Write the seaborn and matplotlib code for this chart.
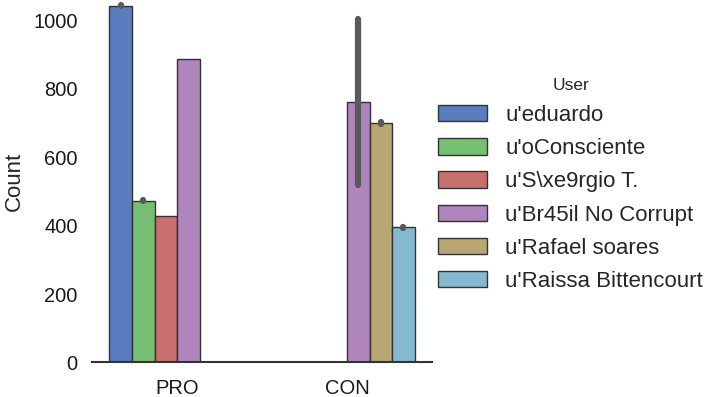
import numpy as np
import pandas as pd
import matplotlib
matplotlib.use("Agg")
import matplotlib.pyplot as plt
import seaborn as sns

# raw observations per (stance, user)
stances = ["PRO", "PRO", "PRO", "PRO", "PRO", "PRO",
           "CON", "CON", "CON", "CON", "CON", "CON"]
users = ["u'eduardo", "u'eduardo",
         "u'oConsciente", "u'oConsciente",
         "u'S\\xe9rgio T.",
         "u'Br45il No Corrupt",
         "u'Br45il No Corrupt", "u'Br45il No Corrupt",
         "u'Rafael soares", "u'Rafael soares",
         "u'Raissa Bittencourt", "u'Raissa Bittencourt"]
counts = [1042, 1044,
          472, 474,
          427,
          888,
          519, 1005,
          698, 702,
          394, 396]

user_order = ["u'eduardo", "u'oConsciente", "u'S\\xe9rgio T.",
              "u'Br45il No Corrupt", "u'Rafael soares", "u'Raissa Bittencourt"]
palette = ["#4878CF", "#6ACC65", "#D65F5F", "#B47CC7", "#C4AD66", "#77BEDB"]

df = pd.DataFrame({"Stance": stances, "User": users, "Count": counts})

sns.set_style("white")
plt.rcParams['font.family'] = ['Liberation Sans', 'DejaVu Sans']

fig = plt.figure(figsize=(7.16, 3.97), dpi=100)
ax = fig.add_axes([0.129, 0.087, 0.474, 0.913])

sns.barplot(data=df, x="Stance", y="Count", hue="User", order=["PRO", "CON"],
            hue_order=user_order, palette=palette, saturation=0.75,
            errorbar=("pi", 100), err_kws={"color": ".35", "linewidth": 4.5,
                                            "solid_capstyle": "round",
                                            "zorder": 5},
            edgecolor=".2", linewidth=1, ax=ax)

ax.set_ylim(0, 1060)
ax.set_xlim(-0.5, 1.5)
ax.set_yticks([0, 200, 400, 600, 800, 1000])
ax.set_xlabel("")
ax.set_ylabel("Count", fontsize=16, labelpad=6)
ax.tick_params(axis="y", labelsize=14.5, length=1.5, width=1, color=".4",
               pad=9, labelcolor="0.1")
ax.tick_params(axis="x", labelsize=14.5, length=0, pad=12, labelcolor="0.1")
sns.despine(ax=ax, left=True)
ax.spines["bottom"].set_color(".2")
ax.spines["bottom"].set_linewidth(1.5)

sns.move_legend(ax, "center left", bbox_to_anchor=(1.0, 0.49), frameon=False,
                title="User", fontsize=16, title_fontsize=12.5,
                handlelength=2.2, handleheight=0.75, labelspacing=0.55,
                handletextpad=0.8, borderaxespad=0.1, borderpad=0.2)

fig.savefig("out.png", dpi=100)
